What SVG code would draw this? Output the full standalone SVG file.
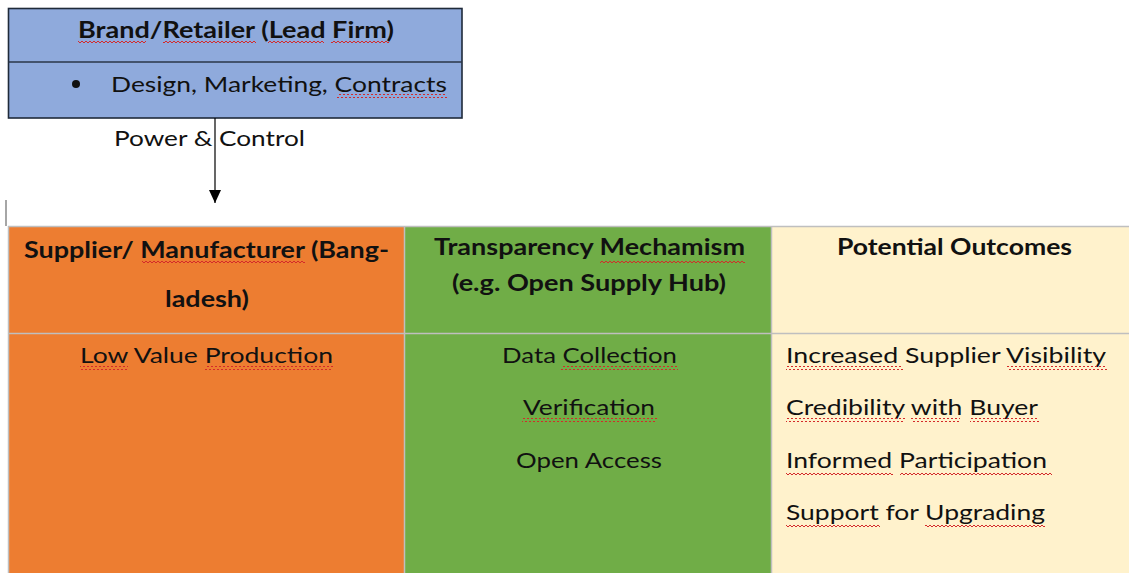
<svg xmlns="http://www.w3.org/2000/svg" width="1129" height="573" viewBox="0 0 1129 573">
  <defs>
    <style>
      text { font-family: "Lato", "Open Sans", "Liberation Sans", sans-serif; fill: #111; font-size: 22px; }
      .b { font-weight: bold; }
      .cellline { stroke: #bfbfbf; stroke-width: 1.5; fill: none; }
      .squig { fill: url(#wave); }
    </style>
    <!-- spell-check style wavy underline -->
    <pattern id="wave" width="4" height="4" patternUnits="userSpaceOnUse">
      <polyline points="0,3 2,1 4,3" fill="none" stroke="#d42a2a" stroke-width="1"/>
    </pattern>
    <marker id="arrow" markerWidth="14" markerHeight="12" refX="13" refY="6" orient="auto" markerUnits="userSpaceOnUse" viewBox="0 0 14 12">
      <path d="M0,0 L13,6 L0,12 Z" fill="#000"/>
    </marker>
  </defs>

  <rect width="1129" height="573" fill="#ffffff"/>

  <!-- Lead firm box -->
  <g id="lead-firm">
    <rect x="8.5" y="8.5" width="453.5" height="109.5" fill="#8faadc" stroke="#1f2a3a" stroke-width="1.6"/>
    <line x1="8.5" y1="62" x2="462" y2="62" stroke="#2a3648" stroke-width="1.6"/>
    <text class="b" x="78" y="38" textLength="316" lengthAdjust="spacingAndGlyphs">Brand/Retailer (Lead Firm)</text>
    <circle cx="76" cy="84" r="4" fill="#111"/>
    <text x="111" y="92" textLength="336" lengthAdjust="spacingAndGlyphs">Design, Marketing, Contracts</text>
    <rect class="squig" x="78" y="41" width="68" height="4"/>
    <rect class="squig" x="163" y="41" width="93" height="4"/>
    <rect class="squig" x="268" y="41" width="56" height="4"/>
    <rect class="squig" x="331" y="41" width="58" height="4"/>
    <rect class="squig" x="337" y="94" width="110" height="4"/>
  </g>

  <!-- Control arrow -->
  <g id="connectors">
    <line x1="215" y1="118" x2="215" y2="203" stroke="#000" stroke-width="1.2" marker-end="url(#arrow)"/>
    <text x="114" y="146" textLength="191" lengthAdjust="spacingAndGlyphs">Power &amp; Control</text>
  </g>

  <!-- small table marker -->
  <line x1="6" y1="200" x2="6" y2="226" stroke="#a6a6a6" stroke-width="2"/>

  <!-- Supplier column -->
  <g id="supplier">
    <rect x="8" y="227" width="396" height="346" fill="#ed7d31"/>
    <text class="b" x="24" y="258" textLength="365" lengthAdjust="spacingAndGlyphs">Supplier/ Manufacturer (Bang-</text>
    <text class="b" x="165" y="307" textLength="84" lengthAdjust="spacingAndGlyphs">ladesh)</text>
    <text x="80" y="363" textLength="253" lengthAdjust="spacingAndGlyphs">Low Value Production</text>
    <rect class="squig" x="142" y="261" width="163" height="4"/>
    <rect class="squig" x="80" y="366" width="48" height="4"/>
    <rect class="squig" x="205" y="366" width="128" height="4"/>
  </g>

  <!-- Transparency mechanism column -->
  <g id="transparency">
    <rect x="404" y="227" width="367" height="346" fill="#70ad47"/>
    <text class="b" x="434" y="255" textLength="311" lengthAdjust="spacingAndGlyphs">Transparency Mechamism</text>
    <text class="b" x="452" y="291" textLength="274" lengthAdjust="spacingAndGlyphs">(e.g. Open Supply Hub)</text>
    <text x="502" y="363" textLength="175" lengthAdjust="spacingAndGlyphs">Data Collection</text>
    <text x="523" y="415" textLength="132" lengthAdjust="spacingAndGlyphs">Verification</text>
    <text x="516" y="468" textLength="146" lengthAdjust="spacingAndGlyphs">Open Access</text>
    <rect class="squig" x="600" y="259" width="145" height="4"/>
    <rect class="squig" x="561" y="366" width="117" height="4"/>
    <rect class="squig" x="522" y="418" width="135" height="4"/>
  </g>

  <!-- Outcomes column -->
  <g id="outcomes">
    <rect x="771" y="227" width="358" height="346" fill="#fff2cc"/>
    <text class="b" x="837" y="255" textLength="235" lengthAdjust="spacingAndGlyphs">Potential Outcomes</text>
    <text x="786" y="363" textLength="320" lengthAdjust="spacingAndGlyphs">Increased Supplier Visibility</text>
    <text x="786" y="415" textLength="252" lengthAdjust="spacingAndGlyphs">Credibility with Buyer</text>
    <text x="786" y="468" textLength="261" lengthAdjust="spacingAndGlyphs">Informed Participation</text>
    <text x="786" y="520" textLength="259" lengthAdjust="spacingAndGlyphs">Support for Upgrading</text>
    <rect class="squig" x="786" y="366" width="117" height="4"/>
    <rect class="squig" x="1007" y="366" width="100" height="4"/>
    <rect class="squig" x="786" y="418" width="119" height="4"/>
    <rect class="squig" x="911" y="418" width="49" height="4"/>
    <rect class="squig" x="970" y="418" width="69" height="4"/>
    <rect class="squig" x="786" y="471" width="107" height="4"/>
    <rect class="squig" x="900" y="471" width="152" height="4"/>
    <rect class="squig" x="786" y="523" width="94" height="4"/>
    <rect class="squig" x="925" y="523" width="120" height="4"/>
  </g>

  <!-- table grid lines -->
  <g id="grid">
    <line class="cellline" x1="8" y1="226.5" x2="1129" y2="226.5"/>
    <line class="cellline" x1="8" y1="333.5" x2="1129" y2="333.5"/>
    <line class="cellline" x1="8.5" y1="226" x2="8.5" y2="573"/>
    <line class="cellline" x1="404.5" y1="226" x2="404.5" y2="573"/>
    <line class="cellline" x1="771.5" y1="226" x2="771.5" y2="573"/>
  </g>
</svg>
